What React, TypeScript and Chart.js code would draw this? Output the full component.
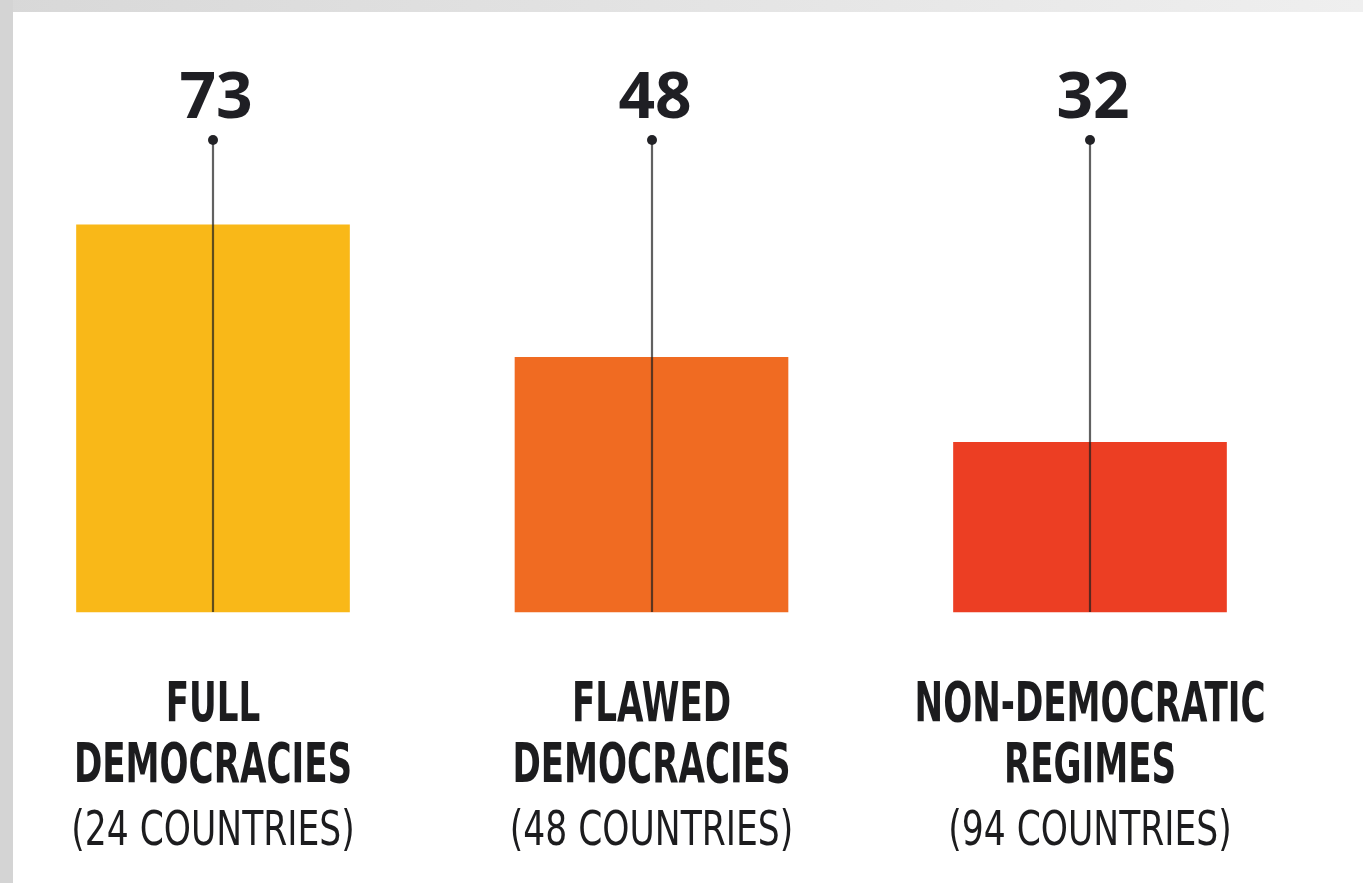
import React, { useEffect, useRef } from "react";
import { Chart, registerables } from "chart.js";

Chart.register(...registerables);

const categories: string[][] = [
  ["FULL", "DEMOCRACIES"],
  ["FLAWED", "DEMOCRACIES"],
  ["NON-DEMOCRATIC", "REGIMES"],
];
const countryCounts: string[] = ["(24 COUNTRIES)", "(48 COUNTRIES)", "(94 COUNTRIES)"];
const values: number[] = [73, 48, 32];
const barColors: string[] = ["#F9B818", "#F06B22", "#EC3E23"];
const yMax = 89;

const COND = "'DejaVu Sans Condensed', 'Liberation Sans Narrow', 'DejaVu Sans', sans-serif";

const stemPlugin = {
  id: "stems",
  afterDatasetsDraw(chart: any) {
    const { ctx } = chart;
    const meta = chart.getDatasetMeta(0);
    const yScale = chart.scales.y;
    const top = yScale.getPixelForValue(yMax);
    const base = yScale.getPixelForValue(0);
    ctx.save();
    meta.data.forEach((bar: any, i: number) => {
      const x = Math.round(bar.x);
      ctx.strokeStyle = "rgba(30,30,30,0.7)";
      ctx.lineWidth = 2.2;
      ctx.beginPath();
      ctx.moveTo(x, top);
      ctx.lineTo(x, base);
      ctx.stroke();
      ctx.fillStyle = "#222226";
      ctx.beginPath();
      ctx.arc(x, top, 5, 0, Math.PI * 2);
      ctx.fill();
      ctx.font = "700 64px 'Open Sans', sans-serif";
      ctx.textAlign = "center";
      ctx.textBaseline = "alphabetic";
      ctx.fillStyle = "#1f1f24";
      ctx.fillText(String(values[i]), x + 3, top - 22);
    });
    ctx.restore();
  },
};

const categoryLabelPlugin = {
  id: "categoryLabels",
  afterDraw(chart: any) {
    const { ctx, chartArea } = chart;
    const xScale = chart.scales.x;
    ctx.save();
    ctx.fillStyle = "#1c1c1e";
    ctx.textAlign = "center";
    ctx.textBaseline = "middle";
    categories.forEach((lines, i) => {
      const x = xScale.getPixelForValue(i);
      lines.forEach((line, j) => {
        ctx.save();
        ctx.translate(x, chartArea.bottom + 95 + j * 61);
        ctx.scale(0.69, 1);
        ctx.font = `bold 55px ${COND}`;
        ctx.fillText(line, 0, 0);
        ctx.restore();
      });
      ctx.save();
      ctx.translate(x, chartArea.bottom + 221);
      ctx.scale(0.8, 1);
      ctx.font = `normal 48px ${COND}`;
      ctx.fillText(countryCounts[i], 0, 0);
      ctx.restore();
    });
    ctx.restore();
  },
};

export default function App() {
  const ref = useRef<HTMLCanvasElement>(null);
  useEffect(() => {
    if (!ref.current) return;
    const chart = new Chart(ref.current, {
      type: "bar",
      data: {
        labels: categories.map((l) => l.join(" ")),
        datasets: [
          {
            data: values,
            backgroundColor: barColors,
            barThickness: 273,
            borderWidth: 0,
            clip: false as any,
          },
        ],
      },
      options: {
        animation: false,
        responsive: false,
        layout: { padding: { top: 140, left: 213, right: 273, bottom: 271 } },
        plugins: { legend: { display: false }, tooltip: { enabled: false } },
        scales: {
          y: { display: false, min: 0, max: yMax },
          x: { display: false, offset: false },
        },
      },
      plugins: [stemPlugin, categoryLabelPlugin],
    });
    return () => chart.destroy();
  }, []);

  return (
    <div style={{ position: "fixed", inset: 0, background: "linear-gradient(to right, #d8d8d8, #efefef)" }}>
      <div style={{ position: "absolute", left: 0, top: 0, bottom: 0, width: 13, background: "#d4d4d4" }} />
      <div style={{ position: "absolute", left: 13, top: 12, right: 0, bottom: 0, background: "#ffffff" }} />
      <canvas
        ref={ref}
        width={1363}
        height={883}
        style={{ position: "absolute", left: 0, top: 0, width: 1363, height: 883 }}
      />
    </div>
  );
}
